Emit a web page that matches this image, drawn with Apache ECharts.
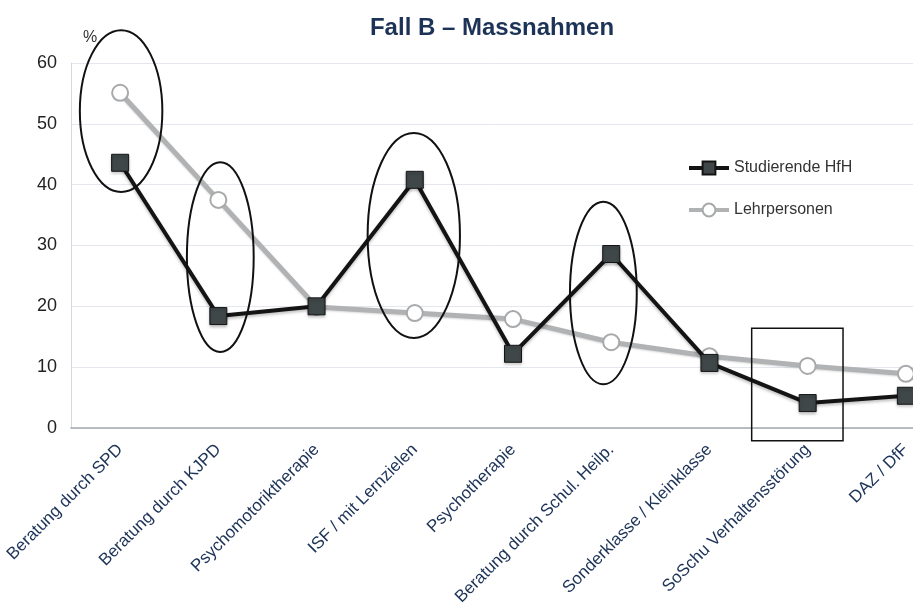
<!DOCTYPE html>
<html>
<head>
<meta charset="utf-8">
<script src="https://cdn.jsdelivr.net/npm/echarts@6/dist/echarts.min.js"></script>
<style>
  html, body { margin: 0; padding: 0; background: #fff; }
  #chart { width: 913px; height: 614px; }
</style>
</head>
<body>
<div id="chart"></div>
<script>
  // Kategorien und Werte (in %)
  const categories = [
    'Beratung durch SPD', 'Beratung durch KJPD', 'Psychomotoriktherapie',
    'ISF / mit Lernzielen', 'Psychotherapie', 'Beratung durch Schul. Heilp.',
    'Sonderklasse / Kleinklasse', 'SoSchu Verhaltensstörung', 'DAZ / DfF'
  ]
  const studierende = [43.6, 18.4, 20.0, 40.8, 12.2, 28.6, 10.7, 4.1, 5.3]
  const lehrpersonen = [55.1, 37.5, 19.9, 18.9, 17.9, 14.1, 11.8, 10.2, 8.9]

  // Markierungen: Kategorie-Mitte, halbe Breite (in Kategorien), Wertebereich oben/unten
  const ellipses = [
    { cat: 0.01, half: 0.42, top: 65.4, bottom: 38.8 },
    { cat: 1.02, half: 0.34, top: 43.7, bottom: 12.5 },
    { cat: 2.99, half: 0.47, top: 48.5, bottom: 14.8 },
    { cat: 4.92, half: 0.34, top: 37.2, bottom: 7.2 }
  ]
  const boxes = [
    { from: 6.43, to: 7.36, top: 16.4, bottom: -2.1 }
  ]

  const navy = '#1c3357'
  const font = 'Liberation Sans, Arial, sans-serif'
  const chart = echarts.init(document.getElementById('chart'))

  const option = {
    animation: false,
    title: {
      text: 'Fall B – Massnahmen',
      left: 487,
      textAlign: 'center',
      top: 11,
      textStyle: { fontFamily: font, fontSize: 24, fontWeight: 'bold', color: navy }
    },
    legend: {
      orient: 'vertical',
      left: 682,
      top: 155,
      itemWidth: 40,
      itemHeight: 16,
      itemGap: 26,
      textStyle: { fontFamily: font, fontSize: 16, color: '#333' },
      data: [
        { name: 'Studierende HfH', lineStyle: { width: 4 } },
        { name: 'Lehrpersonen', lineStyle: { width: 4 } }
      ]
    },
    grid: { left: 71, top: 63, width: 884, bottom: 186, outerBoundsMode: 'none', containLabel: false },
    xAxis: {
      type: 'category',
      data: categories,
      boundaryGap: true,
      axisTick: { show: false },
      axisLine: { lineStyle: { color: '#a3a9b0', width: 1.5 } },
      axisLabel: {
        rotate: 45,
        interval: 0,
        margin: 19,
        fontSize: 17,
        color: navy,
        fontFamily: font
      }
    },
    yAxis: {
      type: 'value',
      min: 0,
      max: 60,
      interval: 10,
      name: '%',
      nameGap: 17,
      nameTextStyle: { align: 'left', padding: [0, 0, 0, 12], fontSize: 16, color: '#333', fontFamily: font },
      axisLine: { show: true, lineStyle: { color: '#d3d8de', width: 1 } },
      axisTick: { show: false },
      axisLabel: { margin: 14, fontSize: 18, color: '#222', fontFamily: font },
      splitLine: { lineStyle: { color: '#e4e8ee', width: 1 } }
    },
    series: [
      {
        name: 'Lehrpersonen',
        type: 'line',
        data: lehrpersonen,
        symbol: 'circle',
        symbolSize: 16,
        lineStyle: { color: '#b0b2b4', width: 5, shadowColor: 'rgba(0,0,0,0.15)', shadowBlur: 2, shadowOffsetY: 1 },
        itemStyle: { color: '#ffffff', borderColor: '#a7a9ab', borderWidth: 2 },
        z: 2
      },
      {
        name: 'Studierende HfH',
        type: 'line',
        data: studierende,
        symbol: 'rect',
        symbolSize: 17,
        lineStyle: { color: '#141414', width: 4, shadowColor: 'rgba(0,0,0,0.25)', shadowBlur: 3, shadowOffsetY: 2 },
        itemStyle: { color: '#3f4749', borderColor: '#141414', borderWidth: 1, shadowColor: 'rgba(0,0,0,0.25)', shadowBlur: 3, shadowOffsetY: 2 },
        z: 3
      }
    ]
  }
  chart.setOption(option)

  // Ellipsen und Rechteck über die Achsen positionieren
  const x0 = chart.convertToPixel({ xAxisIndex: 0 }, 0)
  const x1 = chart.convertToPixel({ xAxisIndex: 0 }, 1)
  const step = x1 - x0
  const px = c => x0 + c * step
  const py = v => chart.convertToPixel({ yAxisIndex: 0 }, v)

  const graphics = []
  ellipses.forEach(e => {
    const yt = py(e.top), yb = py(e.bottom)
    graphics.push({
      type: 'ellipse',
      shape: { cx: px(e.cat), cy: (yt + yb) / 2, rx: e.half * step, ry: (yb - yt) / 2 },
      style: { fill: 'none', stroke: '#111', lineWidth: 2 },
      z: 10
    })
  })
  boxes.forEach(b => {
    const yt = py(b.top), yb = py(b.bottom)
    graphics.push({
      type: 'rect',
      shape: { x: px(b.from), y: yt, width: px(b.to) - px(b.from), height: yb - yt },
      style: { fill: 'none', stroke: '#111', lineWidth: 1.5 },
      z: 10
    })
  })
  chart.setOption({ graphic: graphics })
</script>
</body>
</html>
